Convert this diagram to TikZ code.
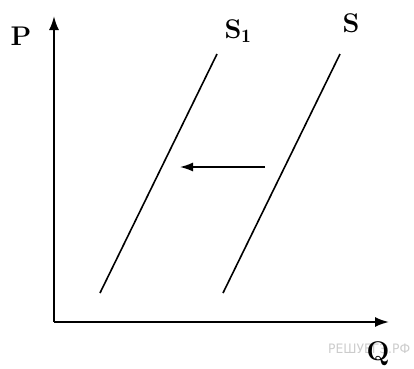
\documentclass[tikz,border=0pt]{standalone}
\usepackage{fontspec}
\newfontfamily\wmfont{DejaVu Sans}
\usetikzlibrary{arrows.meta}
\begin{document}
\begin{tikzpicture}[x=1pt,y=-1pt,
  axis/.style={line width=2pt,-{Latex[length=14pt,width=10pt]}},
  curve/.style={line width=1.6pt},
  shiftarrow/.style={line width=1.4pt,-{Latex[length=13pt,width=9pt]}},
  lbl/.style={font=\fontsize{27}{30}\selectfont\bfseries,inner sep=0pt}]
\useasboundingbox (0,0) rectangle (414,368);
\node[font=\wmfont\fontsize{13}{14}\selectfont,text=black!20,inner sep=0pt,anchor=west,xscale=0.95] (wm) at (328,349) {РЕШУЕГЭ.РФ};
\coordinate (O) at (54,322);
\coordinate (Ptop) at (54,16);
\coordinate (Qend) at (389,322);
\draw[axis] (O) -- (Ptop);
\draw[axis] (O) -- (Qend);
\coordinate (S1a) at (100,293);
\coordinate (S1b) at (217,54);
\coordinate (Sa) at (223,293);
\coordinate (Sb) at (340,54);
\draw[curve] (S1a) -- (S1b);
\draw[curve] (Sa) -- (Sb);
\coordinate (arA) at (265,167);
\coordinate (arB) at (180,167);
\draw[shiftarrow] (arA) -- (arB);
\node[lbl] (P) at (21,36) {P};
\node[lbl] (S1) at (238,31) {S$_{\mathbf 1}$};
\node[lbl] (S) at (351,23) {S};
\node[lbl] (Q) at (378,354) {Q};
\end{tikzpicture}
\end{document}
